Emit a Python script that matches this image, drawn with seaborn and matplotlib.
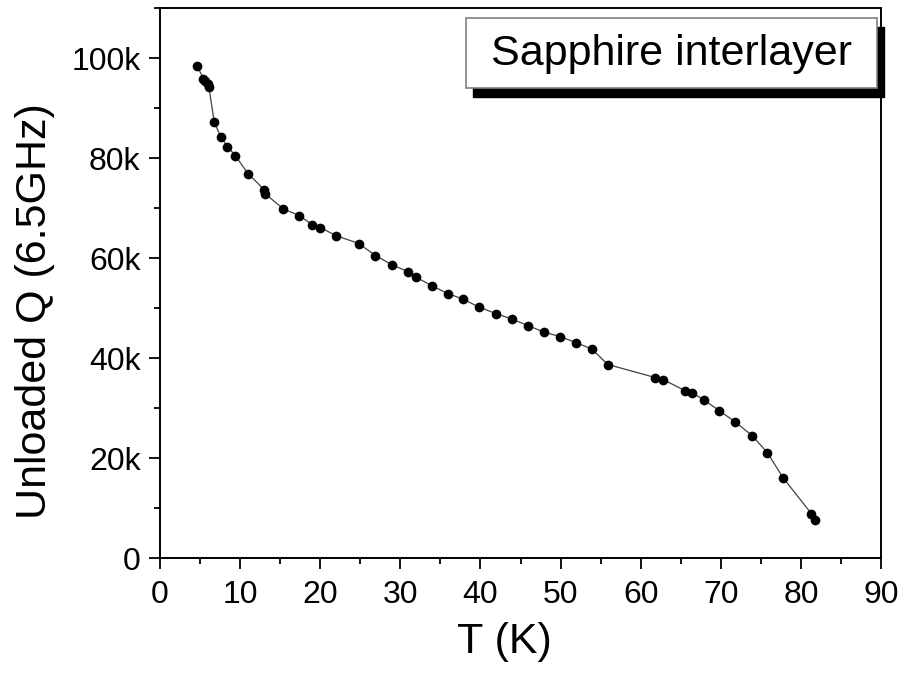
import matplotlib
matplotlib.use("Agg")
import matplotlib.pyplot as plt
from matplotlib.patches import Rectangle
from matplotlib.ticker import MultipleLocator, FuncFormatter
import seaborn as sns
import pandas as pd

temperature_K = [4.65, 5.4, 5.6, 5.95, 6.1, 6.77, 7.56, 8.4, 9.4, 10.97, 13.0, 13.1,
                 15.4, 17.4, 18.95, 20.0, 21.95, 24.8, 26.9, 28.9, 30.9, 31.9, 33.9,
                 35.9, 37.8, 39.8, 41.9, 43.9, 45.9, 47.9, 49.9, 51.9, 53.9, 55.9,
                 61.8, 62.8, 65.5, 66.4, 67.9, 69.8, 71.8, 73.9, 75.8, 77.8, 81.3, 81.8]
unloaded_Q = [98.4, 95.9, 95.5, 94.9, 94.2, 87.2, 84.3, 82.3, 80.5, 76.9, 73.7, 72.9,
              69.8, 68.5, 66.7, 66.1, 64.5, 62.9, 60.5, 58.7, 57.3, 56.2, 54.5,
              52.9, 51.8, 50.2, 48.9, 47.8, 46.5, 45.2, 44.3, 43.1, 41.8, 38.7,
              36.1, 35.7, 33.5, 33.1, 31.6, 29.5, 27.2, 24.5, 21.1, 16.0, 8.9, 7.6]
unloaded_Q = [v * 1000 for v in unloaded_Q]

x_label = "T (K)"
y_label = "Unloaded Q (6.5GHz)"
legend_text = "Sapphire interlayer"

df = pd.DataFrame({"T": temperature_K, "Q": unloaded_Q})

sns.set_style("ticks")
plt.rcParams["font.family"] = ["Liberation Sans", "DejaVu Sans"]
plt.rcParams["text.color"] = "black"
plt.rcParams["axes.labelcolor"] = "black"
plt.rcParams["xtick.color"] = "black"
plt.rcParams["ytick.color"] = "black"

fig = plt.figure(figsize=(9.02, 6.73), dpi=100)
ax = fig.add_axes([160 / 902, 1 - 558 / 673, 721 / 902, 550 / 673])

sns.lineplot(data=df, x="T", y="Q", ax=ax, sort=False, estimator=None,
             color="#404040", linewidth=0.9, marker="o", markersize=7,
             markerfacecolor="black", markeredgecolor="black", markeredgewidth=0)

ax.set_xlim(0, 90)
ax.set_ylim(0, 110000)
ax.xaxis.set_major_locator(MultipleLocator(10))
ax.xaxis.set_minor_locator(MultipleLocator(5))
ax.yaxis.set_major_locator(MultipleLocator(20000))
ax.yaxis.set_minor_locator(MultipleLocator(10000))
ax.yaxis.set_major_formatter(FuncFormatter(lambda v, p: "0" if v == 0 else f"{int(v/1000)}k"))

ax.tick_params(which="major", direction="out", length=8, width=1.3, labelsize=23,
               colors="black", labelcolor="black")
ax.tick_params(axis="x", which="major", pad=8)
ax.tick_params(axis="y", which="major", pad=6)
ax.tick_params(which="minor", direction="out", length=4.5, width=1.3, colors="black")
ax.tick_params(top=False, right=False, which="both")
for s in ax.spines.values():
    s.set_visible(True)
    s.set_linewidth(1.4)
    s.set_color("black")

ax.set_xlabel(x_label, fontsize=31, color="black")
ax.set_ylabel(y_label, fontsize=31, color="black")
ax.xaxis.set_label_coords(0.478, -0.117)
ax.yaxis.set_label_coords(-0.1456, 0.449)

# legend-like box with shadow
tr = ax.transAxes
shadow = Rectangle((0.4244 + 0.0097, 0.8545 - 0.0155), 0.5701, 0.1273,
                   transform=tr, facecolor="black", edgecolor="black", clip_on=False, zorder=5)
box = Rectangle((0.4244, 0.8545), 0.5701, 0.1273, transform=tr,
                facecolor="white", edgecolor="#808080", linewidth=1.2, clip_on=False, zorder=6)
ax.add_patch(shadow)
ax.add_patch(box)
ax.text(0.7094, 0.916, legend_text, transform=tr, ha="center", va="center",
        fontsize=31, color="black", zorder=7)

fig.savefig("out.png", dpi=100)
